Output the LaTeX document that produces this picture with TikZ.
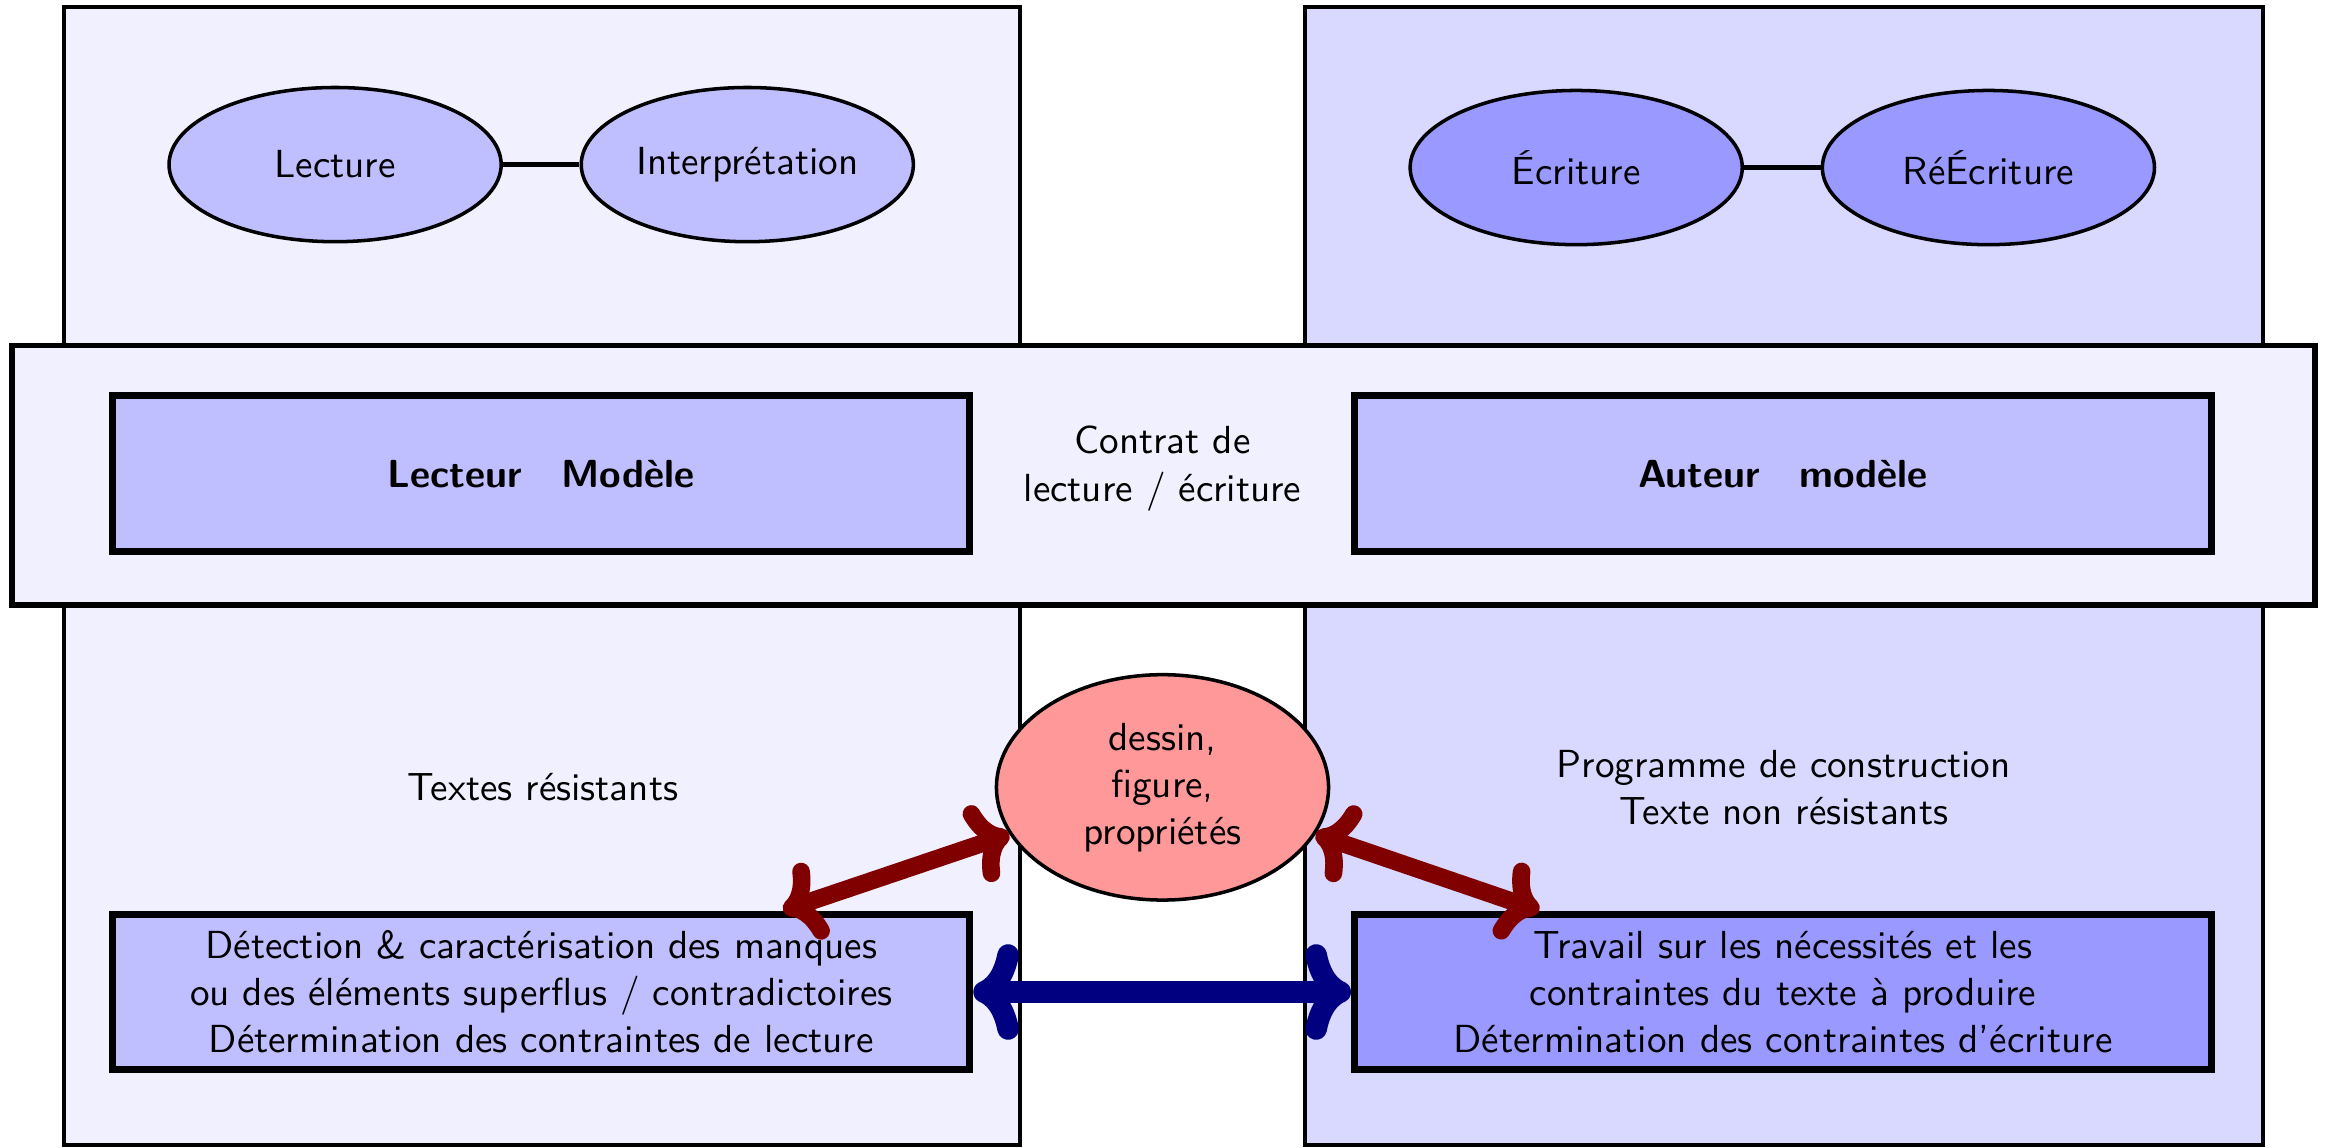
\documentclass[tikz,border=0pt]{standalone}
\usetikzlibrary{calc,shapes.geometric,arrows.meta}
\begin{document}
\def\u{0.0133cm}
\begin{tikzpicture}[x=\u, y=-\u, font=\sffamily,
  panel/.style={draw, rectangle, line width=1pt, inner sep=0pt},
  band/.style={draw, rectangle, line width=1.5pt, inner sep=0pt, fill=blue!6},
  card/.style={draw, rectangle, line width=1.8pt, fill=blue!25, align=center,
    minimum width=578*\u, minimum height=105*\u, inner sep=0pt},
  oval/.style={draw, ellipse, line width=0.9pt, minimum width=224*\u,
    minimum height=104*\u, inner sep=0pt},
  link/.style={line width=1.4pt},
  bigtip/.tip={To[scale=0.85]},
  redarrow/.style={bigtip-bigtip, line width=4.5pt, draw=red!50!black},
  bluearrow/.style={bigtip-bigtip, line width=5.5pt, draw=blue!50!black}]
  % canvas
  \fill[white] (0,0) rectangle (1568,774);
  \useasboundingbox (0,0) rectangle (1568,774);

  % reader and author columns
  \node[panel, fill=blue!6, minimum width=645*\u, minimum height=767*\u] (lpanel) at (365.5,388.5) {};
  \node[panel, fill=blue!15, minimum width=646*\u, minimum height=767*\u] (rpanel) at (1203,388.5) {};

  % reading / writing activities
  \node[oval, fill=blue!25] (lecture) at (226,111) {Lecture};
  \node[oval, fill=blue!25] (interp) at (504,111) {Interprétation};
  \draw[link] (lecture) -- (interp);
  \node[oval, fill=blue!40] (ecriture) at (1063,113) {Écriture};
  \node[oval, fill=blue!40] (reecriture) at (1341,113) {RéÉcriture};
  \draw[link] (ecriture) -- (reecriture);

  % contract band
  \node[band, minimum width=1553*\u, minimum height=175*\u] (contrat) at (784.5,320.5) {};
  \node[card] (lmodel) at (365,319.5) {\bfseries Lecteur\quad Modèle};
  \node[card] (amodel) at (1202.5,319.5) {\bfseries Auteur\quad modèle};
  \node[align=center] (ctxt) at (784,316) {Contrat de\\lecture / écriture};

  % lower part
  \node (resist) at (366,531) {Textes résistants};
  \node[align=center] (nonresist) at (1203,531) {Programme de construction\\Texte non résistants};
  \node[card] (detect) at (365,669) {Détection \& caractérisation des manques\\ou des éléments superflus / contradictoires\\Détermination des contraintes de lecture};
  \node[card, fill=blue!40] (travail) at (1202.5,669) {Travail sur les nécessités et les\\contraintes du texte à produire\\Détermination des contraintes d'écriture};

  \node[draw, ellipse, line width=0.9pt, fill=red!40, minimum width=224*\u,
    minimum height=152*\u, inner sep=0pt, align=center] (figure) at (784,531)
    {dessin,\\figure,\\propriétés};

  % exchanges
  \coordinate (dtop) at ($(detect.north west)!0.78!(detect.north east)$);
  \coordinate (ttop) at ($(travail.north west)!0.218!(travail.north east)$);
  \draw[redarrow] (dtop) -- (figure.197);
  \draw[redarrow] (figure.343) -- (ttop);
  \draw[bluearrow] (detect.east) -- (travail.west);
\end{tikzpicture}
\end{document}
